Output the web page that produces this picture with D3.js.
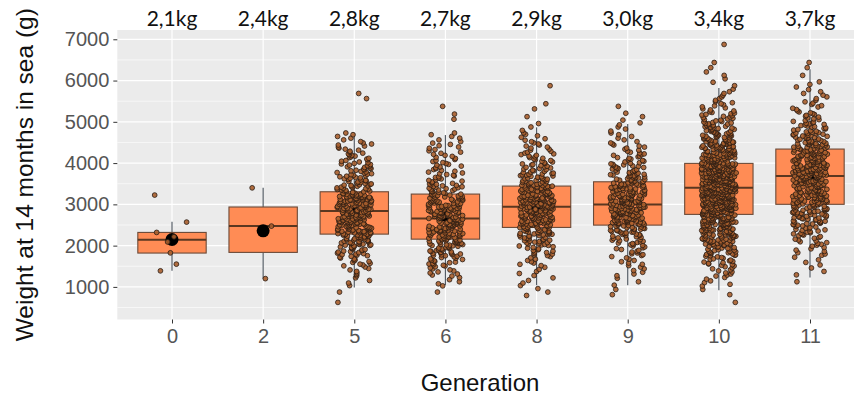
<!DOCTYPE html>
<html>
<head>
<meta charset="utf-8">
<script src="https://cdn.jsdelivr.net/npm/d3@7"></script>
<style>
  body { margin: 0; background: #ffffff; }
  svg { display: block; }
</style>
</head>
<body>
<div id="chart"></div>
<script>
// categories and per-generation summary
const generations = ['0', '2', '5', '6', '8', '9', '10', '11'];
const meanLabels = ['2,1kg', '2,4kg', '2,8kg', '2,7kg', '2,9kg', '3,0kg', '3,4kg', '3,7kg'];
const whiskerLow = [1389, 1200, 986, 1042, 1040, 1040, 920, 1230];
const q1s = [1820, 1836, 2279, 2157, 2441, 2497, 2757, 3001];
const medians = [2140, 2473, 2837, 2659, 2941, 2999, 3402, 3685];
const q3s = [2320, 2936, 3305, 3249, 3443, 3547, 3993, 4340];
const whiskerHigh = [2577, 3400, 4720, 4680, 4866, 4946, 5820, 6272];
const means = [2148, 2358, 2800, 2740, 2940, 3040, 3440, 3670];

// small groups: individual weights (g)
const weightsGen0 = [3225, 2570, 2320, 2215, 2090, 1825, 1551, 1389];
const weightsGen2 = [3400, 2473, 1200];

// large groups: number of fish per 250 g class, starting at 500 g
const binStart = 500;
const binSize = 250;
const countsGen5 = [1, 1, 4, 7, 12, 20, 32, 40, 44, 42, 44, 26, 20, 18, 14, 10, 6, 0, 0, 0, 2, 0, 0, 0, 0, 0];
const countsGen6 = [0, 1, 5, 10, 16, 24, 34, 38, 40, 38, 34, 22, 14, 12, 10, 8, 6, 0, 2, 1, 0, 0, 0, 0, 0, 0];
const countsGen8 = [0, 3, 4, 5, 8, 14, 22, 34, 44, 48, 50, 36, 26, 18, 14, 10, 7, 3, 1, 2, 0, 1, 0, 0, 0, 0];
const countsGen9 = [0, 2, 3, 6, 8, 12, 18, 28, 40, 46, 44, 36, 28, 20, 14, 10, 6, 5, 3, 1, 0, 0, 0, 0, 0, 0];
const countsGen10 = [1, 2, 6, 10, 16, 24, 36, 44, 56, 70, 74, 80, 80, 70, 52, 44, 34, 24, 16, 10, 6, 3, 3, 2, 0, 1];
const countsGen11 = [0, 0, 1, 3, 4, 8, 12, 18, 26, 34, 36, 40, 46, 46, 36, 34, 28, 18, 12, 8, 6, 4, 1, 2, 0, 0];

const yTicks = [1000, 2000, 3000, 4000, 5000, 6000, 7000];
const yMinor = [500, 1500, 2500, 3500, 4500, 5500, 6500];

// expand class counts to one weight per fish, spread evenly inside the class
function fromCounts(counts) {
  const out = [];
  counts.forEach((n, b) => {
    for (let j = 0; j < n; j++) {
      out.push(binStart + b * binSize + (j + 0.5) / n * binSize);
    }
  });
  return out;
}

const pointsByGen = [
  weightsGen0,
  weightsGen2,
  fromCounts(countsGen5),
  fromCounts(countsGen6),
  fromCounts(countsGen8),
  fromCounts(countsGen9),
  fromCounts(countsGen10),
  fromCounts(countsGen11)
];

// fixed horizontal jitter (0..1) so the picture is the same on every load
function jitterFrac(k, i) {
  const s = Math.sin(k * 12.9898 + i * 78.233) * 43758.5453;
  return s - Math.floor(s);
}

const width = 854;
const height = 397;
const panelTop = 30;
const panelBottom = 319.5;

const x = d3.scalePoint()
  .domain(generations)
  .range([172, 810]);
const step = x.step();
const panelLeft = x('0') - 0.6 * step;
const panelRight = x('11') + 0.6 * step;

const y = d3.scaleLinear()
  .domain([210, 7225])
  .range([panelBottom, panelTop]);

const svg = d3.select('#chart')
  .append('svg')
  .attr('width', width)
  .attr('height', height);

svg.append('rect')
  .attr('x', panelLeft)
  .attr('y', panelTop)
  .attr('width', panelRight - panelLeft)
  .attr('height', panelBottom - panelTop)
  .attr('fill', '#ebebeb');

const grid = svg.append('g');
grid.selectAll('.minor')
  .data(yMinor)
  .join('line')
  .attr('x1', panelLeft)
  .attr('x2', panelRight)
  .attr('y1', (d) => y(d))
  .attr('y2', (d) => y(d))
  .attr('stroke', '#ffffff')
  .attr('stroke-width', 0.6);
grid.selectAll('.major')
  .data(yTicks)
  .join('line')
  .attr('x1', panelLeft)
  .attr('x2', panelRight)
  .attr('y1', (d) => y(d))
  .attr('y2', (d) => y(d))
  .attr('stroke', '#ffffff')
  .attr('stroke-width', 1.2);
grid.selectAll('.vmajor')
  .data(generations)
  .join('line')
  .attr('x1', (d) => x(d))
  .attr('x2', (d) => x(d))
  .attr('y1', panelTop)
  .attr('y2', panelBottom)
  .attr('stroke', '#ffffff')
  .attr('stroke-width', 1.2);

const halfBox = 0.375 * step;
const boxes = svg.append('g');

generations.forEach((g, i) => {
  const cx = x(g);
  boxes.append('line')
    .attr('x1', cx).attr('x2', cx)
    .attr('y1', y(whiskerHigh[i])).attr('y2', y(q3s[i]))
    .attr('stroke', '#555d66').attr('stroke-width', 1.2);
  boxes.append('line')
    .attr('x1', cx).attr('x2', cx)
    .attr('y1', y(q1s[i])).attr('y2', y(whiskerLow[i]))
    .attr('stroke', '#555d66').attr('stroke-width', 1.2);
  boxes.append('rect')
    .attr('x', cx - halfBox)
    .attr('y', y(q3s[i]))
    .attr('width', 2 * halfBox)
    .attr('height', y(q1s[i]) - y(q3s[i]))
    .attr('fill', '#ff8c55')
    .attr('stroke', '#6b4a38')
    .attr('stroke-width', 1.1);
  boxes.append('line')
    .attr('x1', cx - halfBox).attr('x2', cx + halfBox)
    .attr('y1', y(medians[i])).attr('y2', y(medians[i]))
    .attr('stroke', '#5a3720').attr('stroke-width', 2);
  boxes.append('circle')
    .attr('cx', cx)
    .attr('cy', y(means[i]))
    .attr('r', 6.5)
    .attr('fill', '#000000');
});

const jitter = 0.19 * step;
const pts = svg.append('g');
generations.forEach((g, i) => {
  const cx = x(g);
  pts.selectAll(null)
    .data(pointsByGen[i])
    .join('circle')
    .attr('cx', (d, k) => cx + (jitterFrac(k, i) - 0.5) * 2 * jitter)
    .attr('cy', (d) => y(d))
    .attr('r', 2.4)
    .attr('fill', '#a95e2c')
    .attr('fill-opacity', 0.9)
    .attr('stroke', '#2a1c14')
    .attr('stroke-opacity', 0.9)
    .attr('stroke-width', 0.9);
});

const yAxis = svg.append('g')
  .attr('transform', `translate(${panelLeft},0)`)
  .call(d3.axisLeft(y).tickValues(yTicks).tickFormat(d3.format('d')).tickSize(4).tickPadding(4));
yAxis.select('.domain').remove();
yAxis.selectAll('line').attr('stroke', '#333333');
yAxis.selectAll('text')
  .attr('fill', '#555555')
  .style('font-family', '"Liberation Sans", Arial, sans-serif')
  .style('font-size', '20px');

const xAxis = svg.append('g')
  .attr('transform', `translate(0,${panelBottom})`)
  .call(d3.axisBottom(x).tickSize(4).tickPadding(5));
xAxis.select('.domain').remove();
xAxis.selectAll('line').attr('stroke', '#333333');
xAxis.selectAll('text')
  .attr('fill', '#555555')
  .style('font-family', '"Liberation Sans", Arial, sans-serif')
  .style('font-size', '20px');

svg.append('g')
  .selectAll('text')
  .data(generations)
  .join('text')
  .attr('x', (d) => x(d))
  .attr('y', 26)
  .attr('text-anchor', 'middle')
  .attr('fill', '#111111')
  .style('font-family', 'Lato, "Liberation Sans", sans-serif')
  .style('font-size', '21px')
  .text((d, i) => meanLabels[i]);

svg.append('text')
  .attr('transform', `translate(33,${(panelTop + panelBottom) / 2}) rotate(-90)`)
  .attr('text-anchor', 'middle')
  .attr('fill', '#111111')
  .style('font-family', '"Liberation Sans", Arial, sans-serif')
  .style('font-size', '24.5px')
  .text('Weight at 14 months in sea (g)');

svg.append('text')
  .attr('x', 480)
  .attr('y', 391)
  .attr('text-anchor', 'middle')
  .attr('fill', '#111111')
  .style('font-family', '"Liberation Sans", Arial, sans-serif')
  .style('font-size', '24px')
  .text('Generation');
</script>
</body>
</html>
